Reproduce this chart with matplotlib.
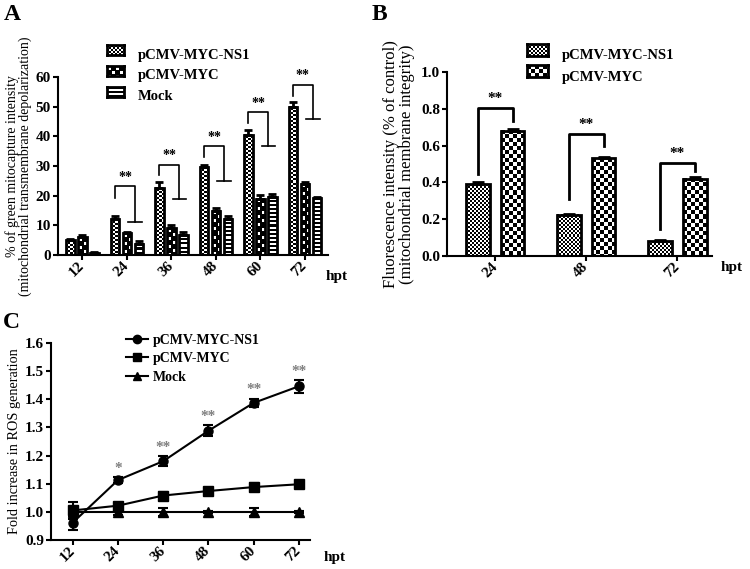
import numpy as np
import matplotlib
matplotlib.use('Agg')
import matplotlib.pyplot as plt
from matplotlib.lines import Line2D

plt.rcParams['font.family'] = 'Liberation Serif'
plt.rcParams['font.weight'] = 'bold'
plt.rcParams['axes.linewidth'] = 1.5

#---------------------------  DATA -----------------------------
# Panel A: % green mitocapture intensity
hptA = ['12', '24', '36', '48', '60', '72']
A_ns1 = [5.0, 12.0, 22.7, 29.5, 40.5, 50.0]
A_ns1_err = [0.5, 1.3, 2.0, 0.8, 1.5, 1.5]
A_myc = [6.0, 7.3, 9.0, 15.0, 19.0, 24.0]
A_myc_err = [0.8, 0.6, 1.2, 1.0, 1.3, 0.5]
A_mock = [0.8, 3.8, 6.8, 12.3, 19.6, 19.2]
A_mock_err = [0.3, 1.0, 0.8, 0.8, 1.0, 0.5]
# significance brackets (group index, top, left bottom, right bottom)
A_sig_idx = [1, 2, 3, 4, 5]
A_sig_top = [23.3, 30.5, 36.6, 48.2, 57.4]
A_sig_left = [19.3, 27.0, 33.0, 44.5, 53.7]
A_sig_right = [11.0, 18.8, 24.8, 36.6, 45.8]

# Panel B: fluorescence intensity
hptB = ['24', '48', '72']
B_ns1 = [0.39, 0.225, 0.08]
B_ns1_err = [0.01, 0.005, 0.008]
B_myc = [0.68, 0.53, 0.42]
B_myc_err = [0.012, 0.006, 0.01]
B_sig_top = [0.804, 0.664, 0.508]
B_sig_left = [0.448, 0.31, 0.149]
B_sig_right = [0.736, 0.598, 0.463]

# Panel C: fold increase in ROS
hptC = [12, 24, 36, 48, 60, 72]
C_ns1 = [0.962, 1.113, 1.180, 1.288, 1.387, 1.446]
C_ns1_err = [0.025, 0.01, 0.017, 0.02, 0.015, 0.022]
C_myc = [1.005, 1.022, 1.058, 1.074, 1.088, 1.098]
C_myc_err = [0.03, 0.01, 0.012, 0.01, 0.015, 0.012]
C_mock = [1.0, 1.0, 1.0, 1.0, 1.0, 1.0]
C_mock_err = [0.01, 0.01, 0.015, 0.003, 0.015, 0.003]
C_star_idx = [1, 2, 3, 4, 5]
C_stars = ['*', '**', '**', '**', '**']

W, H = 750, 569
fig = plt.figure(figsize=(W / 100, H / 100), dpi=100)


def make_pattern(kind, nrows, ncols):
    yy, xx = np.mgrid[0:max(nrows, 1), 0:max(ncols, 1)]
    if kind == 'fine':
        return ((yy // 2 + xx // 2) % 2).astype(float)
    if kind == 'checker':
        return ((yy // 4 + xx // 4) % 2).astype(float)
    if kind == 'dots':
        cell = ((yy // 4 + xx // 4) % 2 == 0)
        inner = (xx % 4 > 0) & (yy % 4 > 0)
        return (cell & inner).astype(float)
    if kind == 'lines':
        return ((yy % 4) >= 2).astype(float)
    return np.ones((nrows, ncols))


def style_axis(ax):
    ax.spines['top'].set_visible(False)
    ax.spines['right'].set_visible(False)
    ax.tick_params(axis='both', direction='out', width=1.5, length=3.5, pad=1.5, labelsize=11)
    ax.tick_params(axis='x', pad=3)
    for lab in ax.get_xticklabels():
        lab.set_rotation(45)
        lab.set_ha('right')
        lab.set_va('center')
        lab.set_rotation_mode('anchor')


def draw_bars(ax, xs, hs, width, kind):
    pos = ax.get_position()
    x0, x1 = ax.get_xlim()
    y0, y1 = ax.get_ylim()
    ppx = pos.width * W / (x1 - x0)
    ppy = pos.height * H / (y1 - y0)
    for x, h in zip(xs, hs):
        ncols = int(round(width * ppx))
        nrows = int(round(h * ppy))
        img = make_pattern(kind, nrows, ncols)
        ax.imshow(img, extent=(x - width / 2, x + width / 2, 0, h), cmap='gray', vmin=0, vmax=1,
                  interpolation='nearest', aspect='auto', zorder=1)
    ax.bar(xs, hs, width, fill=False, edgecolor='black', linewidth=2, zorder=2)
    ax.set_xlim(x0, x1)
    ax.set_ylim(y0, y1)


def swatch(xpx, ypx, wpx, hpx, kind):
    sax = fig.add_axes([xpx / W, 1 - (ypx + hpx / 2) / H, wpx / W, hpx / H])
    sax.imshow(make_pattern(kind, hpx, wpx), cmap='gray', vmin=0, vmax=1,
               interpolation='nearest', aspect='auto')
    sax.set_xticks([])
    sax.set_yticks([])
    for s in sax.spines.values():
        s.set_linewidth(2)


#--------------------------------------
# Panel A
axA = fig.add_axes([58 / W, 1 - 255 / H, 270 / W, 178 / H])
xA = np.arange(len(hptA))
d = 0.27
w = 0.19
axA.set_xlim(-0.55, 5.52)
axA.set_ylim(0, 60)
draw_bars(axA, xA - d, A_ns1, w, 'fine')
draw_bars(axA, xA, A_myc, w, 'dots')
draw_bars(axA, xA + d, A_mock, w, 'lines')
for off, vals, errs in [(-d, A_ns1, A_ns1_err), (0, A_myc, A_myc_err), (d, A_mock, A_mock_err)]:
    axA.errorbar(xA + off, vals, yerr=[np.zeros(len(errs)), errs], fmt='none',
                 ecolor='black', elinewidth=2, capsize=3, capthick=2, zorder=3)
for i, top, lb, rb in zip(A_sig_idx, A_sig_top, A_sig_left, A_sig_right):
    xl = i - d
    xr = i + 0.67 * d
    axA.plot([xl, xl, xr, xr], [lb, top, top, rb], color='black', lw=1.2)
    axA.plot([i + 0.12 * d, i + 1.22 * d], [rb, rb], color='black', lw=1.2)
    axA.text((xl + xr) / 2, top + 0.8, '**', ha='center', va='bottom', fontsize=10)
axA.set_yticks([0, 10, 20, 30, 40, 50, 60])
axA.set_xticks(xA)
axA.set_xticklabels(hptA)
style_axis(axA)
axA.set_ylabel('% of green mitocapture intensity\n(mitochondrial transmembrane depolarization)',
               fontsize=10, labelpad=3, linespacing=0.95)
fig.text(337 / W, 1 - 276 / H, 'hpt', fontsize=11, ha='center', va='center')
fig.text(4 / W, 1 - 4 / H, 'A', fontsize=17, ha='left', va='top')

for j, (kind, lab) in enumerate([('fine', 'pCMV-MYC-NS1'), ('dots', 'pCMV-MYC'), ('lines', 'Mock')]):
    yrow = 55 + 21 * j
    swatch(107, yrow - 5, 17, 10, kind)
    fig.text(138 / W, 1 - yrow / H, lab, fontsize=10.5, ha='left', va='center')

#--------------------------------------
# Panel B
axB = fig.add_axes([447 / W, 1 - 256 / H, 265 / W, 184 / H])
xB = np.arange(len(hptB))
dB = 0.19
wB = 0.26
axB.set_xlim(-0.53, 2.38)
axB.set_ylim(0, 1.0)
draw_bars(axB, xB - dB, B_ns1, wB, 'fine')
draw_bars(axB, xB + dB, B_myc, wB, 'checker')
for off, vals, errs in [(-dB, B_ns1, B_ns1_err), (dB, B_myc, B_myc_err)]:
    axB.errorbar(xB + off, vals, yerr=[np.zeros(len(errs)), errs], fmt='none',
                 ecolor='black', elinewidth=2, capsize=4, capthick=2, zorder=3)
for i in range(len(hptB)):
    xl = i - dB
    xr = i + dB
    axB.plot([xl, xl, xr, xr], [B_sig_left[i], B_sig_top[i], B_sig_top[i], B_sig_right[i]],
             color='black', lw=2)
    axB.text(i, B_sig_top[i] + 0.015, '**', ha='center', va='bottom', fontsize=11)
axB.set_yticks([0.0, 0.2, 0.4, 0.6, 0.8, 1.0])
axB.set_yticklabels(['0.0', '0.2', '0.4', '0.6', '0.8', '1.0'])
axB.set_xticks(xB)
axB.set_xticklabels(hptB)
style_axis(axB)
axB.set_ylabel('Fluorescence intensity (% of control)\n(mitochondrial membrane integrity)',
               fontsize=12, labelpad=4, linespacing=1.0)
fig.text(732 / W, 1 - 267 / H, 'hpt', fontsize=11, ha='center', va='center')
fig.text(372 / W, 1 - 4 / H, 'B', fontsize=17, ha='left', va='top')

for j, (kind, lab) in enumerate([('fine', 'pCMV-MYC-NS1'), ('checker', 'pCMV-MYC')]):
    yrow = 56 + 21 * j
    swatch(527, yrow - 6, 21, 12, kind)
    fig.text(562 / W, 1 - yrow / H, lab, fontsize=10.5, ha='left', va='center')

#--------------------------------------
# Panel C
axC = fig.add_axes([51 / W, 1 - 540 / H, 259 / W, 197 / H])
axC.errorbar(hptC, C_ns1, yerr=C_ns1_err, color='black', marker='o', markersize=6.5,
             lw=1.5, elinewidth=1.5, capsize=3.5, capthick=1.5)
axC.errorbar(hptC, C_myc, yerr=C_myc_err, color='black', marker='s', markersize=6.5,
             lw=1.5, elinewidth=1.5, capsize=3.5, capthick=1.5)
axC.errorbar(hptC, C_mock, yerr=C_mock_err, color='black', marker='^', markersize=6.5,
             lw=1.5, elinewidth=1.5, capsize=3.5, capthick=1.5)
for i, s in zip(C_star_idx, C_stars):
    axC.text(hptC[i], C_ns1[i] + C_ns1_err[i] + 0.008, s, ha='center', va='bottom',
             fontsize=11, color='#7f7f7f')
axC.set_xlim(6.2, 75)
axC.set_ylim(0.9, 1.6)
axC.set_yticks([0.9, 1.0, 1.1, 1.2, 1.3, 1.4, 1.5, 1.6])
axC.set_yticklabels(['0.9', '1.0', '1.1', '1.2', '1.3', '1.4', '1.5', '1.6'])
axC.set_xticks(hptC)
axC.set_xticklabels([str(v) for v in hptC])
style_axis(axC)
axC.set_ylabel('Fold increase in ROS generation', fontsize=10.3, labelpad=3)
fig.text(335 / W, 1 - 558 / H, 'hpt', fontsize=11, ha='center', va='center')
fig.text(3 / W, 1 - 312 / H, 'C', fontsize=17, ha='left', va='top')

handlesC = [Line2D([], [], color='black', marker=m, markersize=6, lw=1.5) for m in ['o', 's', '^']]
axC.legend(handlesC, ['pCMV-MYC-NS1', 'pCMV-MYC', 'Mock'], loc='upper left',
           bbox_to_anchor=(113 / W, 1 - 321 / H), bbox_transform=fig.transFigure,
           frameon=False, fontsize=10, handlelength=1.6, labelspacing=0.4, handletextpad=0.4)

plt.savefig('out.png', dpi=100)
